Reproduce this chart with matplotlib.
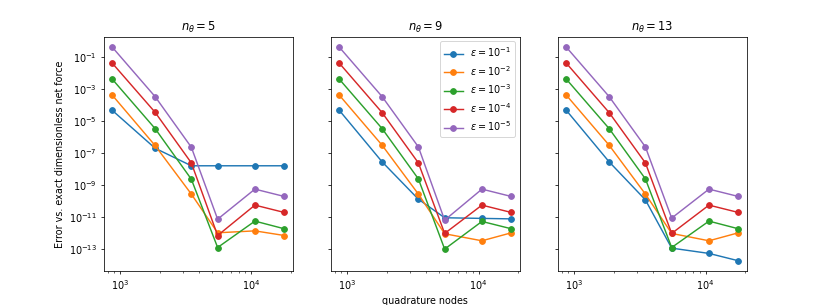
import numpy as np
import matplotlib
matplotlib.use("Agg")
import matplotlib.pyplot as plt
from matplotlib.ticker import NullLocator

nodes = [870, 1840, 3480, 5520, 10620, 17800]
n_theta = [5, 9, 13]
eps_exp = [1, 2, 3, 4, 5]

# log10 of errors, per panel, per epsilon
p5 = {
    1: [-4.35, -6.71, -7.81, -7.81, -7.81, -7.81],
    2: [-3.40, -6.54, -9.58, -12.00, -11.88, -12.17],
    3: [-2.40, -5.48, -8.65, -12.92, -11.27, -11.75],
    4: [-1.40, -4.46, -7.63, -12.17, -10.27, -10.73],
    5: [-0.40, -3.48, -6.65, -11.15, -9.27, -9.73],
}
p9 = {
    1: [-4.35, -7.56, -9.90, -11.06, -11.10, -11.13],
    2: [-3.40, -6.52, -9.58, -12.06, -12.50, -12.00],
    3: [-2.40, -5.48, -8.63, -13.02, -11.29, -11.75],
    4: [-1.40, -4.48, -7.63, -12.04, -10.27, -10.73],
    5: [-0.40, -3.48, -6.63, -11.21, -9.27, -9.73],
}
p13 = {
    1: [-4.35, -7.56, -9.94, -12.96, -13.29, -13.75],
    2: [-3.40, -6.52, -9.58, -12.04, -12.50, -12.00],
    3: [-2.40, -5.48, -8.63, -12.92, -11.27, -11.75],
    4: [-1.40, -4.48, -7.63, -12.04, -10.27, -10.73],
    5: [-0.40, -3.48, -6.63, -11.08, -9.27, -9.73],
}
panels = [p5, p9, p13]

DPI = 69
fig, axes = plt.subplots(1, 3, figsize=(830/DPI, 305/DPI), dpi=DPI, sharey=True)
for ax, nt, data in zip(axes, n_theta, panels):
    for e in eps_exp:
        ax.plot(nodes, 10.0 ** np.array(data[e]), marker='o',
                label=r'$\varepsilon = 10^{-%d}$' % e)
    ax.set_xscale('log')
    ax.set_yscale('log')
    ax.set_title(r'$n_\theta = %d$' % nt)

axes[0].set_yticks([10.0 ** (-k) for k in range(1, 14, 2)])
axes[0].yaxis.set_minor_locator(NullLocator())
axes[0].set_ylabel('Error vs. exact dimensionless net force')
axes[1].set_xlabel('quadrature nodes')
axes[1].legend(loc='upper right')

fig.savefig('out.png', dpi=DPI)
